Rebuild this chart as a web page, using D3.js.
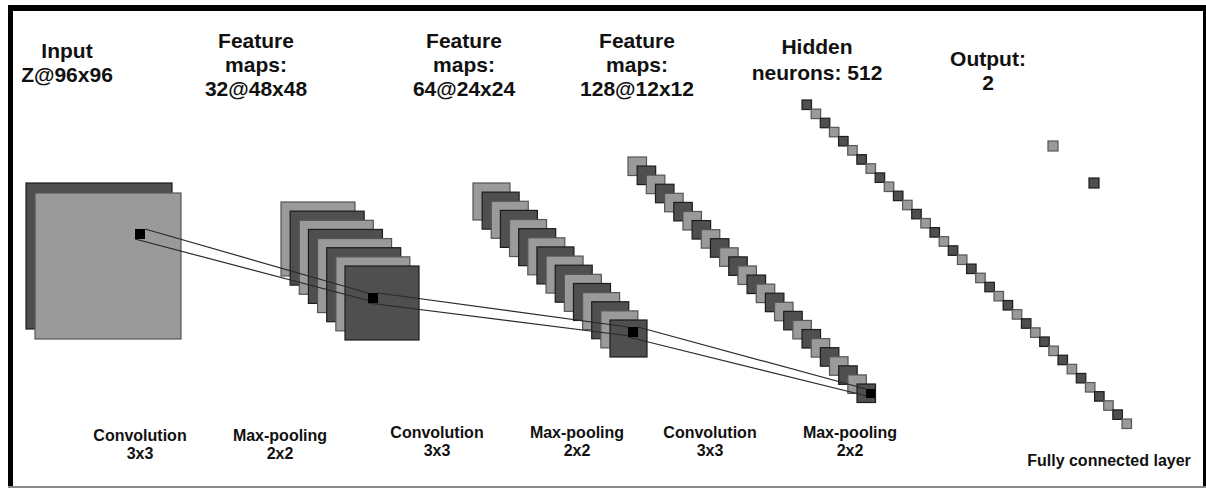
<!DOCTYPE html>
<html>
<head>
<meta charset="utf-8">
<script src="https://cdn.jsdelivr.net/npm/d3@7"></script>
<style>
  body { margin: 0; background: #fff; }
  svg { display: block; }
  text { font-family: "Liberation Sans", Arial, sans-serif; font-weight: bold; fill: #111; }
</style>
</head>
<body>
<svg id="cnn" width="1206" height="488"></svg>
<script>
// layer titles (one entry per line)
const layerTitles = [
    ["Input", "Z@96x96"],
    ["Feature", "maps:", "32@48x48"],
    ["Feature", "maps:", "64@24x24"],
    ["Feature", "maps:", "128@12x12"],
    ["Hidden", "neurons: 512"],
    ["Output:", "2"]
];
// how many slices are drawn for each layer, and shade of the first one
const sliceCounts = [2, 8, 16, 26, 36, 2];
const firstShade = ["dark", "light", "light", "light", "dark", "light"];
// operations between layers
const opLabels = [
    ["Convolution", "3x3"],
    ["Max-pooling", "2x2"],
    ["Convolution", "3x3"],
    ["Max-pooling", "2x2"],
    ["Convolution", "3x3"],
    ["Max-pooling", "2x2"]
];
const fcLabel = "Fully connected layer";

const width = 1206, height = 488;
const svg = d3.select("#cnn");

const shade = { light: "#9a9a9a", dark: "#4f4f4f" };
const edge = { light: "#555", dark: "#1c1c1c" };

// layout: first and last slice corner + slice size for every layer
const stacks = [
    { x0: 26,   y0: 183, x1: 35,   y1: 193, size: 146 },
    { x0: 281,  y0: 202, x1: 345,  y1: 266, size: 74 },
    { x0: 473,  y0: 183, x1: 610,  y1: 320, size: 37 },
    { x0: 628,  y0: 157, x1: 857,  y1: 384, size: 18.5 },
    { x0: 802,  y0: 100, x1: 1122, y1: 419, size: 9.5 },
    { x0: 1048, y0: 141, x1: 1089, y1: 178, size: 10 }
];
const titlePos = [
    { cx: 67,  y: 58, gap: 24 },
    { cx: 256, y: 48, gap: 24 },
    { cx: 464, y: 48, gap: 24 },
    { cx: 637, y: 48, gap: 24 },
    { cx: 817, y: 54, gap: 26 },
    { cx: 988, y: 66, gap: 24 }
];
const opPos = [
    { cx: 140, y: 441 }, { cx: 280, y: 441 },
    { cx: 437, y: 438 }, { cx: 577, y: 438 },
    { cx: 710, y: 438 }, { cx: 850, y: 438 }
];
// small kernel squares
const kernels = [
    { x: 135, y: 229, s: 10 },
    { x: 368, y: 293, s: 10 },
    { x: 628, y: 327, s: 10 },
    { x: 866, y: 389, s: 9 }
];

// frame
svg.append("rect").attr("x", 0).attr("y", 0).attr("width", width).attr("height", height).attr("fill", "#fff");
svg.append("rect").attr("x", 8).attr("y", 5).attr("width", width - 8).attr("height", 6).attr("fill", "#000");
svg.append("rect").attr("x", 8).attr("y", 5).attr("width", 5).attr("height", height - 5).attr("fill", "#000");
svg.append("rect").attr("x", 1203).attr("y", 5).attr("width", 3).attr("height", height - 5).attr("fill", "#000");
svg.append("rect").attr("x", 8).attr("y", 486).attr("width", width - 8).attr("height", 2).attr("fill", "#888");

// slices of each layer
sliceCounts.forEach((n, li) => {
    const st = stacks[li];
    const xScale = d3.scaleLinear().domain([0, n - 1]).range([st.x0, st.x1]);
    const yScale = d3.scaleLinear().domain([0, n - 1]).range([st.y0, st.y1]);
    const start = firstShade[li] === "light" ? 0 : 1;
    const slices = d3.range(n).map(i => ({ i: i, tone: (i + start) % 2 === 0 ? "light" : "dark" }));

    svg.append("g")
        .attr("class", "layer")
        .selectAll("rect")
        .data(slices)
        .enter()
        .append("rect")
        .attr("x", d => xScale(d.i))
        .attr("y", d => yScale(d.i))
        .attr("width", st.size)
        .attr("height", st.size)
        .attr("fill", d => shade[d.tone])
        .attr("stroke", d => edge[d.tone])
        .attr("stroke-width", 1.2);
});

// connection lines between kernels
const links = d3.pairs(kernels);
const lineG = svg.append("g");
links.forEach(([a, b]) => {
    lineG.append("line")
        .attr("x1", a.x + a.s).attr("y1", a.y)
        .attr("x2", b.x).attr("y2", b.y)
        .attr("stroke", "#2a2a2a").attr("stroke-width", 1.2);
    lineG.append("line")
        .attr("x1", a.x).attr("y1", a.y + a.s)
        .attr("x2", b.x + b.s).attr("y2", b.y + b.s)
        .attr("stroke", "#2a2a2a").attr("stroke-width", 1.2);
});

svg.append("g")
    .selectAll("rect")
    .data(kernels)
    .enter()
    .append("rect")
    .attr("x", d => d.x)
    .attr("y", d => d.y)
    .attr("width", d => d.s)
    .attr("height", d => d.s)
    .attr("fill", "#000");

// titles
layerTitles.forEach((lines, li) => {
    const t = svg.append("text")
        .attr("text-anchor", "middle")
        .style("font-size", "21px");
    lines.forEach((ln, k) => {
        t.append("tspan")
            .attr("x", titlePos[li].cx)
            .attr("y", titlePos[li].y + k * titlePos[li].gap)
            .text(ln);
    });
});

// operation labels
opLabels.forEach((lines, oi) => {
    const t = svg.append("text")
        .attr("text-anchor", "middle")
        .style("font-size", "16px");
    lines.forEach((ln, k) => {
        t.append("tspan")
            .attr("x", opPos[oi].cx)
            .attr("y", opPos[oi].y + k * 18)
            .text(ln);
    });
});

svg.append("text")
    .attr("x", 1109)
    .attr("y", 466)
    .attr("text-anchor", "middle")
    .style("font-size", "16px")
    .text(fcLabel);
</script>
</body>
</html>
